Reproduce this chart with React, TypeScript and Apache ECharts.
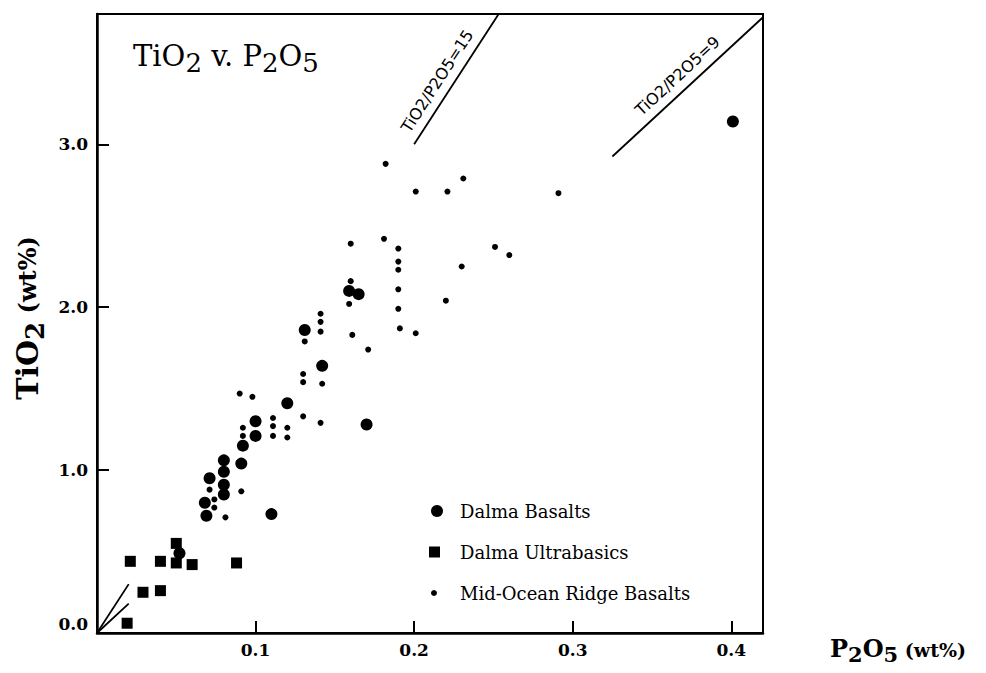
import React, { useEffect, useRef } from "react";
import * as echarts from "echarts";

// P2O5 (wt%), TiO2 (wt%)
const dalmaBasalts: [number, number][] = [
  [0.401, 3.14], [0.159, 2.1], [0.165, 2.08], [0.131, 1.86], [0.142, 1.64],
  [0.12, 1.41], [0.17, 1.28], [0.1, 1.3], [0.1, 1.21], [0.092, 1.15],
  [0.08, 1.06], [0.091, 1.04], [0.08, 0.99], [0.071, 0.95], [0.08, 0.91],
  [0.08, 0.85], [0.068, 0.8], [0.069, 0.72], [0.11, 0.73], [0.052, 0.49],
];

const dalmaUltrabasics: [number, number][] = [
  [0.05, 0.55], [0.021, 0.44], [0.04, 0.44], [0.05, 0.43], [0.06, 0.42],
  [0.088, 0.43], [0.029, 0.25], [0.04, 0.26], [0.019, 0.06],
];

const morb: [number, number][] = [
  [0.182, 2.88], [0.201, 2.71], [0.221, 2.71], [0.231, 2.79], [0.291, 2.7],
  [0.16, 2.39], [0.181, 2.42], [0.19, 2.36], [0.251, 2.37], [0.26, 2.32],
  [0.19, 2.28], [0.19, 2.23], [0.23, 2.25], [0.16, 2.16], [0.19, 2.11],
  [0.159, 2.02], [0.22, 2.04], [0.19, 1.99], [0.191, 1.87], [0.201, 1.84],
  [0.161, 1.83], [0.171, 1.74], [0.141, 1.96], [0.141, 1.91], [0.141, 1.85],
  [0.131, 1.79], [0.13, 1.59], [0.13, 1.54], [0.142, 1.53], [0.09, 1.47],
  [0.098, 1.45], [0.13, 1.33], [0.141, 1.29], [0.111, 1.32], [0.111, 1.27],
  [0.111, 1.21], [0.12, 1.26], [0.12, 1.2], [0.092, 1.26], [0.092, 1.21],
  [0.071, 0.88], [0.091, 0.87], [0.074, 0.82], [0.074, 0.77], [0.081, 0.71],
];

const seriesNames = ["Dalma Basalts", "Dalma Ultrabasics", "Mid-Ocean Ridge Basalts"];

// TiO2/P2O5 ratio reference lines: ratio, label, near-origin P2O5 extent, main P2O5 extent
const ratios = [15, 9];
const ratioLabels = ["TiO2/P2O5=15", "TiO2/P2O5=9"];
const ratioOriginSpan: [number, number] = [0, 0.02];
const ratioMainSpans: [number, number][] = [
  [0.2, 0.2533],
  [0.325, 0.42],
];

const xMin = 0;
const xMax = 0.42;
const xInterval = 0.1;
const yMin = 0;
const yMax = 3.8;
const yInterval = 1;

const SERIF = "'DejaVu Serif', 'Liberation Serif', serif";
const SANS = "'DejaVu Sans', 'Liberation Sans', sans-serif";
const INK = "#000";

export default function App() {
  const ref = useRef<HTMLDivElement>(null);

  useEffect(() => {
    if (!ref.current) return;
    const chart = echarts.init(ref.current, undefined, { renderer: "svg" });

    const markData: any[] = [];
    ratios.forEach((r, i) => {
      markData.push([
        { coord: [ratioOriginSpan[0], r * ratioOriginSpan[0]], label: { show: false } },
        { coord: [ratioOriginSpan[1], r * ratioOriginSpan[1]], label: { show: false } },
      ]);
      const lab = {
        show: true,
        formatter: ratioLabels[i],
        position: "insideMiddleTop",
        distance: 7,
        fontFamily: SANS,
        fontSize: 16,
        color: INK,
        padding: i === 0 ? [0, 24, 0, 0] : [0, 0, 0, 0],
      };
      markData.push([
        { coord: [ratioMainSpans[i][0], r * ratioMainSpans[i][0]], label: lab },
        { coord: [ratioMainSpans[i][1], r * ratioMainSpans[i][1]], label: lab },
      ]);
    });

    const legendText = (pad: number) => ({
      fontFamily: SERIF,
      fontSize: 18,
      color: INK,
      padding: [0, 0, 0, pad],
    });

    const sub = (size: number, drop: number, bold: boolean) => ({
      fontFamily: SERIF,
      fontWeight: bold ? "bold" : "normal",
      fontSize: size,
      verticalAlign: "top",
      padding: [drop, 0, 0, 0],
      fill: INK,
    });
    const main = (size: number, bold: boolean, drop = 0) => ({
      fontFamily: SERIF,
      fontWeight: bold ? "bold" : "normal",
      fontSize: size,
      verticalAlign: "top",
      padding: [drop, 0, 0, 0],
      fill: INK,
    });

    const option: any = {
      animation: false,
      backgroundColor: "#fff",
      grid: {
        left: 97,
        top: 14,
        right: 223,
        bottom: 40,
        show: true,
        borderColor: "#000",
        borderWidth: 2,
      },
      xAxis: {
        type: "value",
        min: xMin,
        max: xMax,
        interval: xInterval,
        axisLine: { show: true, lineStyle: { color: "#000", width: 2.5 } },
        axisTick: { show: true, inside: true, length: 12, lineStyle: { color: "#000", width: 2 } },
        splitLine: { show: false },
        axisLabel: {
          margin: 8,
          showMaxLabel: false,
          fontFamily: SERIF,
          fontWeight: "bold",
          fontSize: 17,
          color: INK,
          formatter: (v: number) => (v === 0 ? "" : v.toFixed(1)),
        },
      },
      yAxis: {
        type: "value",
        min: yMin,
        max: yMax,
        interval: yInterval,
        axisLine: { show: true, lineStyle: { color: "#000", width: 2.5 } },
        axisTick: { show: true, inside: true, length: 12, lineStyle: { color: "#000", width: 2 } },
        splitLine: { show: false },
        axisLabel: {
          margin: 9,
          showMaxLabel: false,
          fontFamily: SERIF,
          fontWeight: "bold",
          fontSize: 17,
          color: INK,
          formatter: (v: number) => (v === 0 ? "{z|0.0}" : v.toFixed(1)),
          rich: {
            z: {
              fontFamily: SERIF,
              fontWeight: "bold",
              fontSize: 17,
              color: INK,
              padding: [0, 0, 18, 0],
            },
          },
        },
      },
      legend: [
        {
          data: [seriesNames[0]],
          left: 431,
          top: 502,
          padding: 0,
          itemWidth: 12,
          itemHeight: 12,
          icon: "circle",
          itemStyle: { opacity: 1, color: INK },
          textStyle: legendText(12),
        },
        {
          data: [seriesNames[1]],
          left: 429,
          top: 543,
          padding: 0,
          itemWidth: 11,
          itemHeight: 11,
          icon: "rect",
          itemStyle: { opacity: 1, color: INK },
          textStyle: legendText(15),
        },
        {
          data: [seriesNames[2]],
          left: 431,
          top: 584,
          padding: 0,
          itemWidth: 6,
          itemHeight: 6,
          icon: "circle",
          itemStyle: { opacity: 1, color: INK },
          textStyle: legendText(18),
        },
      ],
      series: [
        {
          name: "Ratio lines",
          type: "scatter",
          data: [],
          silent: true,
          markLine: {
            silent: true,
            symbol: ["none", "none"],
            lineStyle: { color: "#000", width: 1.8, type: "solid" },
            data: markData,
          },
        },
        {
          name: seriesNames[2],
          type: "scatter",
          data: morb,
          symbol: "circle",
          symbolSize: 6,
          itemStyle: { color: INK, opacity: 1 },
        },
        {
          name: seriesNames[1],
          type: "scatter",
          data: dalmaUltrabasics,
          symbol: "rect",
          symbolSize: 11,
          itemStyle: { color: INK, opacity: 1 },
        },
        {
          name: seriesNames[0],
          type: "scatter",
          data: dalmaBasalts,
          symbol: "circle",
          symbolSize: 12,
          itemStyle: { color: INK, opacity: 1 },
        },
      ],
      graphic: [
        {
          type: "text",
          x: 133,
          y: 41,
          silent: true,
          style: {
            text: "{m|TiO}{s|2}{m| v. P}{s|2}{m|O}{s|5}",
            fill: INK,
            rich: { m: main(29, false), s: sub(26, 9, false) },
          },
        },
        {
          type: "text",
          x: 30,
          y: 318,
          rotation: Math.PI / 2,
          silent: true,
          style: {
            text: "{m|TiO}{s|2}{p| (wt%)}",
            align: "center",
            verticalAlign: "middle",
            fill: INK,
            rich: { m: main(30, true), s: sub(26, 9, true), p: main(24, true, 3) },
          },
        },
        {
          type: "text",
          x: 830,
          y: 636,
          silent: true,
          style: {
            text: "{m|P}{s|2}{m|O}{s|5}{p| (wt%)}",
            fill: INK,
            rich: { m: main(24, true), s: sub(21, 8, true), p: main(19, true, 4) },
          },
        },
      ],
    };

    chart.setOption(option);
    return () => chart.dispose();
  }, []);

  return (
    <div
      ref={ref}
      style={{ position: "fixed", left: 0, top: 0, width: 986, height: 673, background: "#fff" }}
    />
  );
}
